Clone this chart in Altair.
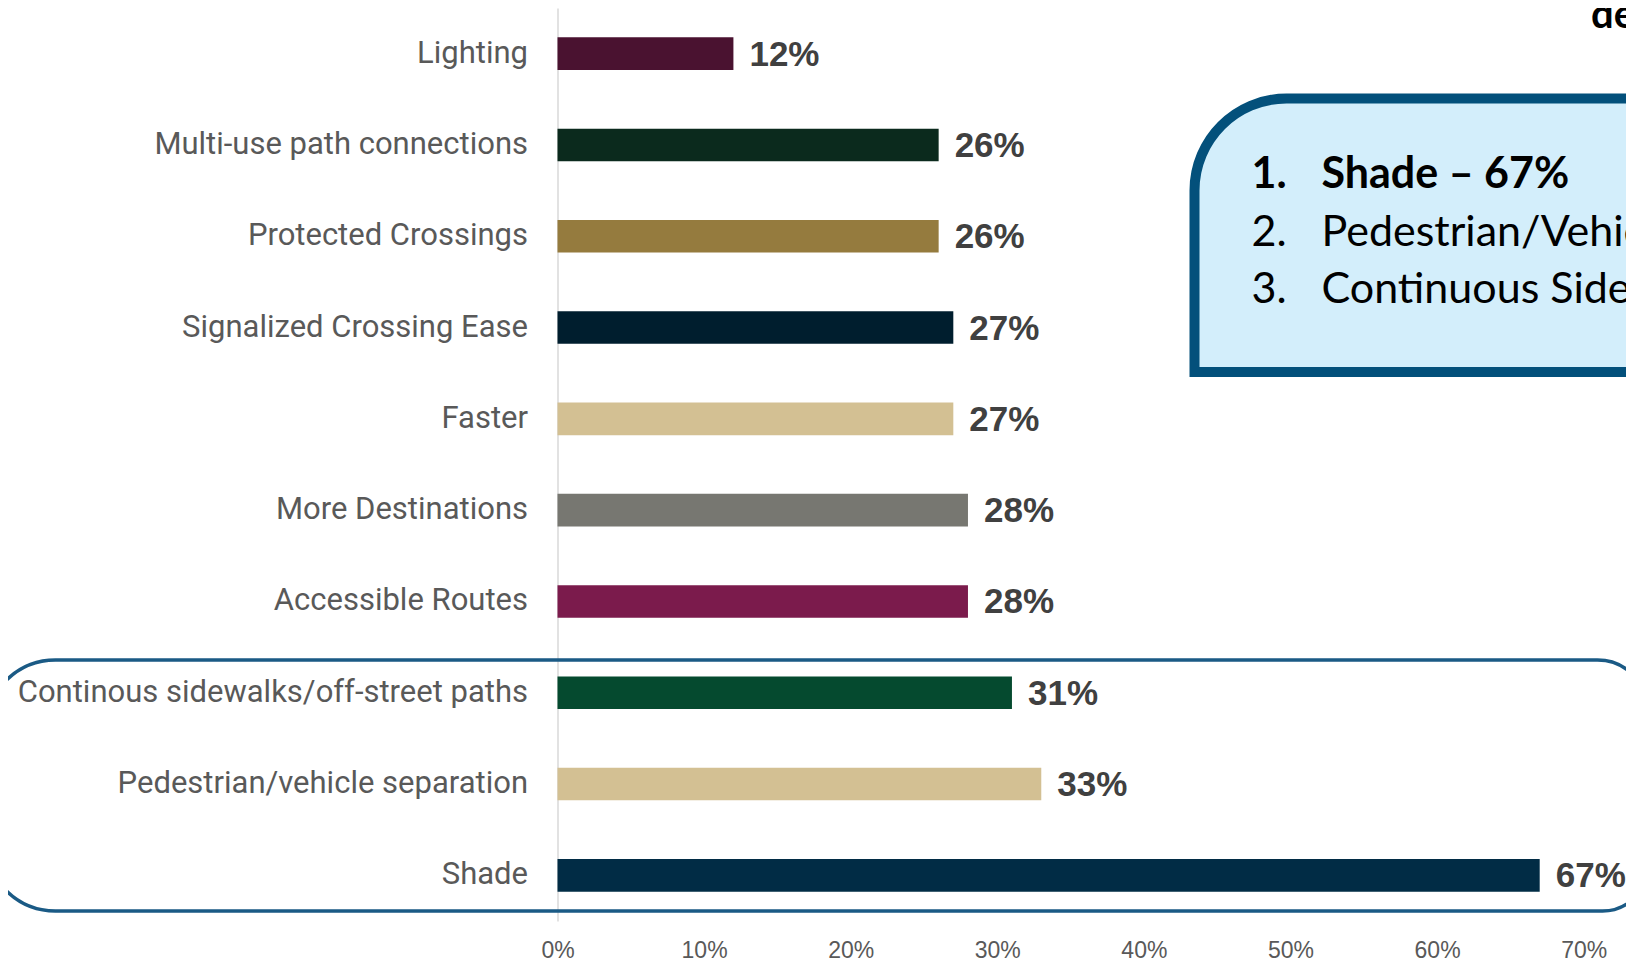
import altair as alt
import pandas as pd

categories = [
    "Lighting",
    "Multi-use path connections",
    "Protected Crossings",
    "Signalized Crossing Ease",
    "Faster",
    "More Destinations",
    "Accessible Routes",
    "Continous sidewalks/off-street paths",
    "Pedestrian/vehicle separation\u00a0",
    "Shade",
]
values = [0.12, 0.26, 0.26, 0.27, 0.27, 0.28, 0.28, 0.31, 0.33, 0.67]
colors = [
    "#4A1230", "#0B2A1D", "#957B3E", "#001E2E", "#D3C093",
    "#777771", "#7B1B4C", "#054A2F", "#D3C093", "#012C45",
]
tick_values = [0, 0.1, 0.2, 0.3, 0.4, 0.5, 0.6, 0.7]

callout_numbers = ["1.", "2.", "3."]
callout_items = ["Shade \u2013 67%", "Pedestrian/Vehicle Separation \u2013 33%", "Continuous Sidewalks \u2013 31%"]
callout_weights = ["bold", "normal", "normal"]
title_fragment = "de"

df = pd.DataFrame({"category": categories, "value": values})

W = 1055.5
H = 913

y_enc = alt.Y(
    "category:N",
    sort=categories,
    scale=alt.Scale(paddingInner=0.643, paddingOuter=0.3215),
    axis=alt.Axis(
        title=None, ticks=False, domainColor="#D9D9D9", domainWidth=1.5,
        labelFont="Roboto", labelFontSize=31, labelColor="#595959",
        labelPadding=30, labelLimit=700,
    ),
)
x_enc = alt.X(
    "value:Q",
    scale=alt.Scale(domain=[0, 0.72], nice=False, zero=True),
    axis=alt.Axis(
        title=None, values=tick_values, format=".0%", domain=False, ticks=False,
        grid=False, labelFont="Liberation Sans", labelFontSize=23,
        labelColor="#595959", labelPadding=18, labelFlush=False,
    ),
)

bars = alt.Chart(df).mark_bar().encode(
    y=y_enc,
    x=x_enc,
    color=alt.Color("category:N", scale=alt.Scale(domain=categories, range=colors), legend=None),
)

value_labels = alt.Chart(df).mark_text(
    align="left", baseline="middle", dx=16, dy=1,
    font="Liberation Sans", fontWeight="bold", fontSize=35, color="#404040",
).encode(
    y=alt.Y("category:N", sort=categories),
    x="value:Q",
    text=alt.Text("value:Q", format=".0%"),
)

one = pd.DataFrame({"k": [0]})

outline = alt.Chart(one).mark_rect(
    fill="transparent", stroke="#1A5A85", strokeWidth=3.5,
    cornerRadiusTopLeft=70, cornerRadiusBottomLeft=70,
    cornerRadiusTopRight=50, cornerRadiusBottomRight=45,
).encode(
    x=alt.value(-572), x2=alt.value(1090),
    y=alt.value(652), y2=alt.value(903),
)

callout_box = alt.Chart(one).mark_rect(
    fill="#D3EEFB", stroke="#03507B", strokeWidth=10,
    cornerRadiusTopLeft=92,
).encode(
    x=alt.value(637), x2=alt.value(1250),
    y=alt.value(90.5), y2=alt.value(364),
)

cdf = pd.DataFrame({"num": callout_numbers, "item": callout_items, "w": callout_weights})

callout_layers = []
for i in range(len(callout_items)):
    yb = 180 + 57.5 * i
    w = callout_weights[i]
    callout_layers.append(
        alt.Chart(cdf.iloc[[i]]).mark_text(
            align="left", baseline="alphabetic", font="Lato", fontSize=43,
            fontWeight=w, color="#000000",
        ).encode(x=alt.value(694), y=alt.value(yb), text="num:N")
    )
    callout_layers.append(
        alt.Chart(cdf.iloc[[i]]).mark_text(
            align="left", baseline="alphabetic", font="Lato", fontSize=43,
            fontWeight=w, color="#000000",
        ).encode(x=alt.value(764), y=alt.value(yb), text="item:N")
    )

title_df = pd.DataFrame({"t": [title_fragment]})
title_text = alt.Chart(title_df).mark_text(
    align="left", baseline="alphabetic", font="Lato", fontSize=40,
    fontWeight="bold", color="#000000",
).encode(x=alt.value(1033.5), y=alt.value(20), text="t:N")

chart = alt.layer(
    outline, bars, value_labels, callout_box, *callout_layers, title_text
).properties(
    width=W, height=H,
    padding={"left": 549.5, "top": 0, "right": 13, "bottom": 46},
    autosize=alt.AutoSizeParams(type="none"),
    background="white",
).configure_view(stroke="transparent", strokeWidth=0)

chart.save("out.html", embed_options={"renderer": "svg", "actions": False})
